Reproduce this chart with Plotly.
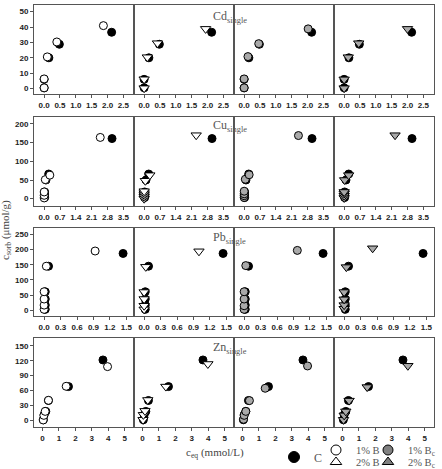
import plotly.graph_objects as go

W, H = 442, 469

metals = ["Cd", "Cu", "Pb", "Zn"]

# ---- data: c_eq (mmol/L) and c_sorb (umol/g) ----
C_x = {
    "Cd": [0.0, 0.0, 0.15, 0.48, 2.13],
    "Cu": [0.02, 0.02, 0.02, 0.08, 0.2, 3.0],
    "Pb": [0.02, 0.02, 0.02, 0.02, 0.08, 1.44],
    "Zn": [0.05, 0.1, 0.2, 0.36, 1.58, 3.68],
}
C_y = {
    "Cd": [0.5, 6, 20, 28.8, 36.6],
    "Cu": [3, 10, 18, 50, 66, 161],
    "Pb": [3, 17, 37, 61, 145, 187],
    "Zn": [1, 11, 18, 40, 68, 121.7],
}
B1_x = {
    "Cd": [0.0, 0.0, 0.1, 0.4, 1.87],
    "Cu": [0.0, 0.0, 0.0, 0.05, 0.25, 2.48],
    "Pb": [0.0, 0.0, 0.0, 0.0, 0.04, 0.93],
    "Zn": [0.04, 0.08, 0.16, 0.36, 1.44, 3.96],
}
B1_y = {
    "Cd": [0.5, 6.3, 20.6, 30.3, 40.9],
    "Cu": [2, 9, 18, 51, 63, 164],
    "Pb": [3, 17, 37, 61, 145, 195],
    "Zn": [0.7, 10, 18, 40.3, 68.6, 108.3],
}
B2_x = {
    "Cd": [0.0, 0.0, 0.1, 0.42, 1.94],
    "Cu": [0.0, 0.0, 0.0, 0.0, 0.0, 0.05, 0.25, 2.3],
    "Pb": [0.0, 0.0, 0.0, 0.0, 0.03, 1.0],
    "Zn": [0.03, 0.05, 0.15, 0.32, 1.42, 3.98],
}
B2_y = {
    "Cd": [0.3, 6.1, 20.4, 29.5, 38.8],
    "Cu": [0, 5, 10, 15, 20, 48, 63, 170],
    "Pb": [3, 15, 37, 60, 143, 194],
    "Zn": [1, 11, 19, 41, 68, 113.6],
}
Bc1_x = {
    "Cd": [0.0, 0.0, 0.12, 0.46, 2.02],
    "Cu": [0.0, 0.0, 0.0, 0.0, 0.05, 0.22, 2.4],
    "Pb": [0.0, 0.0, 0.0, 0.0, 0.03, 0.97],
    "Zn": [0.06, 0.1, 0.2, 0.42, 1.38, 3.96],
}
Bc1_y = {
    "Cd": [0.5, 6.3, 20.8, 29.2, 38.8],
    "Cu": [3, 8, 13, 20, 52, 64, 169],
    "Pb": [3, 15, 37, 61, 147, 197],
    "Zn": [2, 10, 18, 39.7, 64.6, 109.6],
}
Bc2_x = {
    "Cd": [0.0, 0.0, 0.13, 0.46, 2.0],
    "Cu": [0.0, 0.0, 0.0, 0.0, 0.02, 0.2, 2.25],
    "Pb": [0.0, 0.0, 0.0, 0.0, 0.04, 0.52],
    "Zn": [0.06, 0.1, 0.2, 0.4, 1.5, 3.98],
}
Bc2_y = {
    "Cd": [0.3, 6.0, 20.4, 29.5, 38.8],
    "Cu": [2, 8, 14, 18, 50, 63, 170],
    "Pb": [5, 17, 36, 60, 142, 204],
    "Zn": [1, 10, 18, 39.7, 67, 110],
}

# axis settings per metal
x_ranges = {"Cd": [-0.32, 2.82], "Cu": [-0.45, 3.95], "Pb": [-0.185, 1.63], "Zn": [-0.52, 5.54]}
x_ticks = {"Cd": [0, 0.5, 1.0, 1.5, 2.0, 2.5], "Cu": [0, 0.7, 1.4, 2.1, 2.8, 3.5],
           "Pb": [0, 0.3, 0.6, 0.9, 1.2, 1.5], "Zn": [0, 1, 2, 3, 4, 5]}
x_fmt = {"Cd": ".1f", "Cu": ".1f", "Pb": ".1f", "Zn": "d"}
y_ranges = {"Cd": [-3.5, 54.3], "Cu": [-19.6, 218.7], "Pb": [-18.8, 270.7], "Zn": [-13.5, 166]}
y_ticks = {"Cd": [0, 10, 20, 30, 40, 50], "Cu": [0, 50, 100, 150, 200],
           "Pb": [0, 50, 100, 150, 200, 250], "Zn": [0, 30, 60, 90, 120, 150]}

series = [
    ("1% B", B1_x, B1_y, "circle", "white"),
    ("2% B", B2_x, B2_y, "triangle-down", "white"),
    ("1% B<sub>c</sub>", Bc1_x, Bc1_y, "circle", "#a9a9a9"),
    ("2% B<sub>c</sub>", Bc2_x, Bc2_y, "triangle-down", "#a9a9a9"),
]

# layout geometry (pixels)
col_left = [34, 134, 234, 334]
col_w = 99.5
row_top = [5, 117, 228, 338]
row_bot = [94, 206, 316, 427]

fig = go.Figure()
tickfont = dict(family="Liberation Sans", size=8, color="#222", weight="bold")
line_col = "#555"

for r, m in enumerate(metals):
    for c, (name, sx, sy, sym, fill) in enumerate(series):
        k = r * 4 + c + 1
        xa = "x" if k == 1 else f"x{k}"
        ya = "y" if k == 1 else f"y{k}"
        fig.add_trace(go.Scatter(
            x=C_x[m], y=C_y[m], mode="markers", xaxis=xa, yaxis=ya, showlegend=False,
            marker=dict(symbol="circle", size=8, color="black", line=dict(color="black", width=1)),
            hoverinfo="skip"))
        fig.add_trace(go.Scatter(
            x=sx[m], y=sy[m], mode="markers", xaxis=xa, yaxis=ya, showlegend=False,
            marker=dict(symbol=sym, size=8 if sym == "circle" else 9, color=fill,
                        line=dict(color="black", width=1)),
            hoverinfo="skip"))
        xkey = "xaxis" if k == 1 else f"xaxis{k}"
        ykey = "yaxis" if k == 1 else f"yaxis{k}"
        x0 = col_left[c] / W
        x1 = (col_left[c] + col_w) / W
        y0 = 1 - row_bot[r] / H
        y1 = 1 - row_top[r] / H
        fig.update_layout(**{
            xkey: dict(domain=[x0, x1], anchor=ya, range=x_ranges[m], tickvals=x_ticks[m],
                       tickformat=x_fmt[m], ticks="outside", ticklen=3, tickcolor=line_col,
                       showline=True, linecolor=line_col, linewidth=1, mirror=True,
                       showgrid=False, zeroline=False, tickfont=tickfont),
            ykey: dict(domain=[y0, y1], anchor=xa, range=y_ranges[m], tickvals=y_ticks[m],
                       ticks="outside" if c == 0 else "", ticklen=3, tickcolor=line_col,
                       showticklabels=(c == 0),
                       showline=True, linecolor=line_col, linewidth=1, mirror=True,
                       showgrid=False, zeroline=False, tickfont=tickfont),
        })

# legend-only entries, one legend box per entry
legend_items = [
    ("C", "legend", "circle", "black", 11),
    ("1% B", "legend2", "circle", "white", 10),
    ("2% B", "legend3", "triangle-up", "white", 10),
    ("1% B<sub>c</sub>", "legend4", "circle", "#808080", 10),
    ("2% B<sub>c</sub>", "legend5", "triangle-up", "#808080", 10),
]
for name, lg, sym, col, sz in legend_items:
    fig.add_trace(go.Scatter(x=[None], y=[None], mode="markers", name=name, legend=lg,
                             marker=dict(symbol=sym, size=sz, color=col,
                                         line=dict(color="black", width=1))))

common_leg = dict(bgcolor="rgba(0,0,0,0)", borderwidth=0, yanchor="middle",
                  xanchor="left", tracegroupgap=0, itemwidth=30)
f10 = dict(family="Liberation Serif", size=10.5, color="#555")
fig.update_layout(
    legend=dict(x=274 / W, y=1 - 457 / H,
                font=dict(family="Liberation Serif", size=12, color="#555"), **common_leg),
    legend2=dict(x=316 / W, y=1 - 450 / H, font=f10, **common_leg),
    legend3=dict(x=316 / W, y=1 - 462 / H, font=f10, **common_leg),
    legend4=dict(x=368 / W, y=1 - 450 / H, font=f10, **common_leg),
    legend5=dict(x=368 / W, y=1 - 462 / H, font=f10, **common_leg),
)

# panel titles
for r, m in enumerate(metals):
    ty = [17, 126, 238, 348][r]
    fig.add_annotation(x=211 / W, y=1 - ty / H, xref="paper", yref="paper", xanchor="left",
                       yanchor="middle", showarrow=False, text=f"{m}<sub>single</sub>",
                       font=dict(family="Liberation Serif", size=12, color="#555"))

fig.add_annotation(x=215 / W, y=1 - 453 / H, xref="paper", yref="paper", showarrow=False,
                   text="c<sub>eq</sub> (mmol/L)", xanchor="center", yanchor="middle",
                   font=dict(family="Liberation Serif", size=11, color="#444"))
fig.add_annotation(x=6 / W, y=1 - 230 / H, xref="paper", yref="paper", showarrow=False,
                   text="c<sub>sorb</sub> (μmol/g)", textangle=-90, xanchor="center", yanchor="middle",
                   font=dict(family="Liberation Serif", size=11, color="#444"))

fig.update_layout(width=W, height=H, margin=dict(l=0, r=0, t=0, b=0, autoexpand=False),
                  paper_bgcolor="white", plot_bgcolor="white")

fig.write_html("out.html")
